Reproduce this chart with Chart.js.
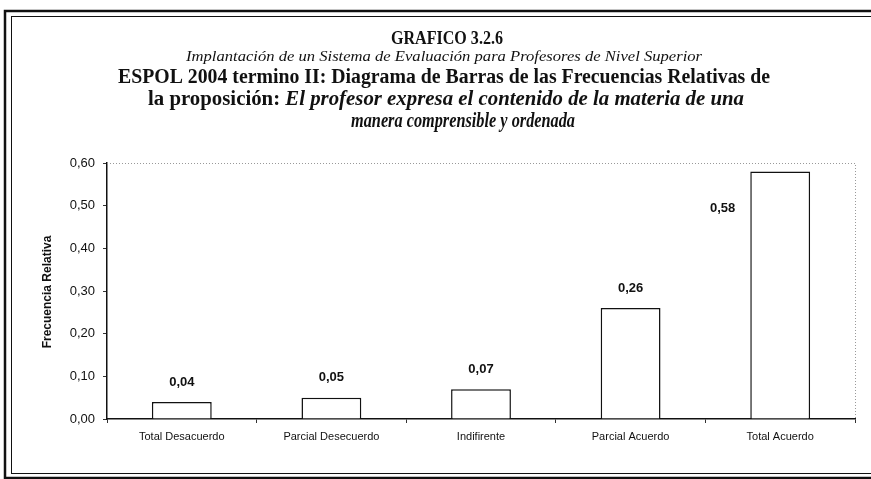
<!DOCTYPE html>
<html>
<head>
<meta charset="utf-8">
<script src="https://cdn.jsdelivr.net/npm/chart.js@4.4.1/dist/chart.umd.min.js"></script>
<style>
    html, body { margin: 0; padding: 0; background: #fff; overflow: hidden; }
    #wrap { position: relative; width: 871px; height: 479px; }
</style>
</head>
<body>
<div id="wrap"><canvas id="myChart" width="871" height="479"></canvas></div>
<script>

// data
var categories = ['Total Desacuerdo', 'Parcial Desecuerdo', 'Indifirente', 'Parcial Acuerdo', 'Total Acuerdo'];
var frecuencias = [0.04, 0.05, 0.07, 0.26, 0.58];
var yTickLabels = ['0,00', '0,10', '0,20', '0,30', '0,40', '0,50', '0,60'];

var titulo = 'GRAFICO 3.2.6';
var subtitulo = 'Implantación de un Sistema de Evaluación para Profesores de Nivel Superior';
var linea1 = 'ESPOL 2004 termino II: Diagrama de Barras de las Frecuencias Relativas de';
var linea2a = 'la proposición: ';
var linea2b = 'El profesor expresa el contenido de la materia de una';
var linea3 = 'manera comprensible y ordenada';
var ejeY = 'Frecuencia Relativa';

var serif = '"Liberation Serif", "Times New Roman", serif';
var sans = '"Liberation Sans", Arial, sans-serif';

function formatValue(v) {
    return v.toFixed(2).replace('.', ',');
}

// draw a line made of several styled parts, centred and squeezed to a width
function fitText(ctx, parts, cx, y, width) {
    var total = 0;
    parts.forEach(function (p) {
        ctx.font = p.font;
        p.w = ctx.measureText(p.text).width;
        total += p.w;
    });
    var s = width / total;
    ctx.save();
    ctx.translate(cx - width / 2, y);
    ctx.scale(s, 1);
    ctx.textAlign = 'left';
    ctx.textBaseline = 'middle';
    ctx.fillStyle = '#111';
    var x = 0;
    parts.forEach(function (p) {
        ctx.font = p.font;
        ctx.fillText(p.text, x, 0);
        x += p.w;
    });
    ctx.restore();
}

var decorPlugin = {
    id: 'decor',
    afterDraw: function (chart) {
        var ctx = chart.ctx;
        var area = chart.chartArea;

        // dotted top and right edges of the plot area
        ctx.save();
        ctx.strokeStyle = '#999';
        ctx.lineWidth = 1;
        ctx.setLineDash([1, 2]);
        ctx.beginPath();
        ctx.moveTo(area.left, area.top + 0.5);
        ctx.lineTo(area.right + 0.5, area.top + 0.5);
        ctx.lineTo(area.right + 0.5, area.bottom);
        ctx.stroke();
        ctx.restore();

        // value labels
        var meta = chart.getDatasetMeta(0);
        ctx.save();
        ctx.fillStyle = '#111';
        ctx.font = 'bold 13px ' + sans;
        ctx.textBaseline = 'middle';
        meta.data.forEach(function (bar, i) {
            var txt = formatValue(frecuencias[i]);
            if (i == meta.data.length - 1) {
                // the tallest bar has its label on its left side
                ctx.textAlign = 'right';
                ctx.fillText(txt, bar.x - bar.width / 2 - 15, bar.y + 37);
            } else {
                ctx.textAlign = 'center';
                ctx.fillText(txt, bar.x, bar.y - 20);
            }
        });
        ctx.restore();

        // axis title
        ctx.save();
        ctx.translate(48, 292);
        ctx.rotate(-Math.PI / 2);
        ctx.fillStyle = '#111';
        ctx.font = 'bold 12px ' + sans;
        ctx.textAlign = 'center';
        ctx.textBaseline = 'middle';
        ctx.fillText(ejeY, 0, 0);
        ctx.restore();

        // titles (the scan shows a narrow Times face)
        fitText(ctx, [{text: titulo, font: 'bold 19px ' + serif}], 447, 39, 112);
        fitText(ctx, [{text: subtitulo, font: 'italic 15.5px ' + serif}], 444, 57, 516);
        fitText(ctx, [{text: linea1, font: 'bold 20px ' + serif}], 444, 78, 652);
        fitText(ctx, [{text: linea2a, font: 'bold 20px ' + serif},
                      {text: linea2b, font: 'italic bold 20px ' + serif}], 446, 100, 596);
        fitText(ctx, [{text: linea3, font: 'italic bold 20px ' + serif}], 463, 122, 224);

        // double frame round the page
        ctx.save();
        ctx.strokeStyle = '#111';
        ctx.lineWidth = 2.5;
        ctx.strokeRect(5, 11, 900, 467);
        ctx.lineWidth = 1;
        ctx.strokeRect(11.5, 16.5, 900, 457);
        ctx.restore();
    }
};

var ctx = document.getElementById('myChart').getContext('2d');
var freqChart = new Chart(ctx, {
    type: 'bar',
    data: {
        labels: categories,
        datasets: [{
            data: frecuencias,
            backgroundColor: '#fff',
            borderColor: '#111',
            borderWidth: 1.5,
            categoryPercentage: 1,
            barPercentage: 0.4
        }]
    },
    options: {
        responsive: false,
        animation: false,
        devicePixelRatio: 1,
        layout: { padding: { left: 0, right: 16, top: 163, bottom: 0 } },
        plugins: {
            legend: { display: false },
            tooltip: { enabled: false }
        },
        scales: {
            x: {
                grid: { display: true, drawOnChartArea: false, offset: true, tickLength: 4, color: '#333' },
                border: { color: '#111', width: 1.5 },
                ticks: { color: '#111', font: { family: sans, size: 11 }, padding: 7, maxRotation: 0, autoSkip: false },
                afterFit: function (s) { s.height = 60; }
            },
            y: {
                min: 0,
                max: 0.6,
                grid: { drawOnChartArea: false, tickLength: 4, color: '#333' },
                border: { color: '#111', width: 1.5 },
                ticks: {
                    stepSize: 0.1,
                    color: '#111',
                    font: { family: sans, size: 13 },
                    padding: 8,
                    callback: function (v, i) { return yTickLabels[i]; }
                },
                afterFit: function (s) { s.width = 107; }
            }
        }
    },
    plugins: [decorPlugin]
});
</script>
</body>
</html>
